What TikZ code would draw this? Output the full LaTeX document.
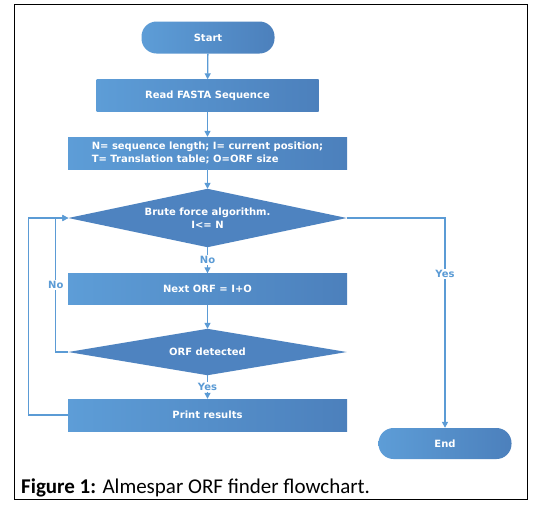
\documentclass[tikz,border=0pt]{standalone}
\usepackage{fontspec}
\setmainfont{Carlito}
\newfontfamily\boxfont{DejaVu Sans}
\usetikzlibrary{arrows.meta}
\definecolor{bluelight}{RGB}{93,157,215}
\definecolor{bluedark}{RGB}{76,128,188}
\definecolor{diafill}{RGB}{78,131,192}
\definecolor{linecol}{RGB}{91,155,213}
\tikzset{
  boxtext/.style={text=white,font=\boxfont\bfseries\fontsize{10}{12.5}\selectfont,align=left},
  procbox/.style={boxtext,rectangle,left color=bluelight,right color=bluedark,draw=none,inner sep=0pt,minimum height=32pt},
  termbox/.style={procbox,rounded corners=15pt,minimum width=133pt},
  decbox/.style={boxtext,rectangle,draw=none,inner sep=0pt,align=center},
  diashape/.style={fill=diafill,draw=none},
  conn/.style={draw=linecol,line width=1.3pt,-{Triangle[length=6pt,width=6pt]}},
  lbl/.style={fill=white,text=linecol,font=\boxfont\bfseries\fontsize{10}{12}\selectfont,inner sep=1.5pt}
}
\begin{document}
\begin{tikzpicture}[x=1pt,y=-1pt]
\useasboundingbox[fill=white] (0,0) rectangle (545,507);
\draw[line width=1pt] (14,4.5) rectangle (527,499);
\node[termbox] (start) at (208,37.5) {Start};
\node[procbox,minimum width=222pt] (read) at (207.5,95.5) {Read FASTA Sequence};
\node[procbox,minimum width=279pt] (nbox) at (207.5,153) {N= sequence length; I= current position;\\T= Translation table; O=ORF size};
\node[decbox,minimum width=278pt,minimum height=58pt] (d1) at (207.5,218) {};
\fill[diashape] (d1.west) -- (d1.north) -- (d1.east) -- (d1.south) -- cycle;
\node[boxtext,align=center] (d1t) at (207.5,218) {Brute force algorithm.\\I<= N};
\node[procbox,minimum width=279pt,minimum height=31pt] (next) at (207.5,289) {Next ORF = I+O};
\node[decbox,minimum width=278pt,minimum height=46pt] (d2) at (207.5,352) {};
\fill[diashape] (d2.west) -- (d2.north) -- (d2.east) -- (d2.south) -- cycle;
\node[boxtext] (d2t) at (207.5,352) {ORF detected};
\node[procbox,minimum width=279pt] (print) at (207.5,415) {Print results};
\node[termbox,minimum height=31pt] (end) at (445,443.5) {End};
\draw[conn] (start) -- (read);
\draw[conn] (read) -- (nbox);
\draw[conn] (nbox) -- (d1);
\draw[conn] (d1) -- node[lbl] {No} (next);
\draw[conn] (next) -- (d2);
\draw[conn] (d2) -- node[lbl] {Yes} (print);
\draw[conn] (d1.east) -| node[lbl,pos=0.633] {Yes} (end);
\draw[conn] (d2.west) -| node[lbl,pos=0.75] {No} ([xshift=-12.5pt]d1.west) -- (d1.west);
\draw[conn] (print.west) -| ([xshift=-40pt]d1.west) -- (d1.west);
\node[anchor=base west,inner sep=0pt,font=\fontsize{21}{25}\selectfont] (cap) at (21,493) {\textbf{Figure 1:} Almespar ORF finder flowchart.};
\end{tikzpicture}
\end{document}
